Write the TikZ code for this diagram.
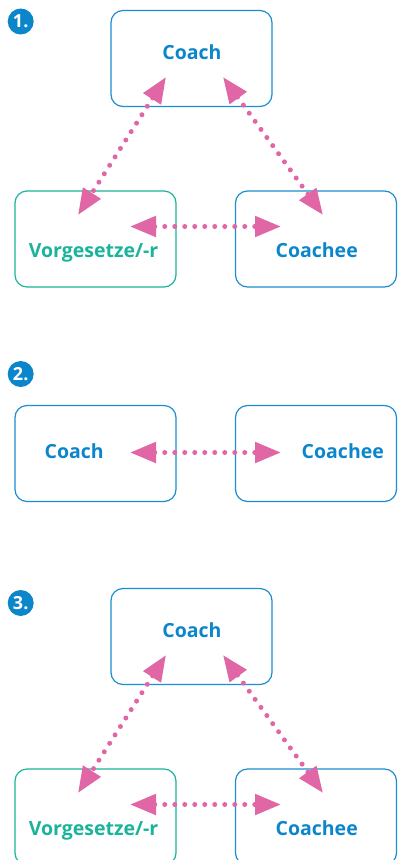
\documentclass[tikz,border=0pt]{standalone}
\usepackage{fontspec}
\setmainfont{Open Sans}
\usetikzlibrary{arrows.meta}
\definecolor{cblue}{HTML}{1A8ED0}
\definecolor{ctext}{HTML}{0B86CB}
\definecolor{cteal}{HTML}{1BB39A}
\definecolor{cpink}{HTML}{E066A6}
\tikzset{
  box/.style={draw=cblue, line width=1.2pt, rounded corners=12pt, minimum width=161pt, minimum height=96pt, inner sep=0pt},
  tbox/.style={box, draw=cteal},
  lbl/.style={font=\bfseries\fontsize{19.5}{20}\selectfont, text=ctext, inner sep=0pt, anchor=base},
  tlbl/.style={lbl, text=cteal},
  badge/.style={circle, fill=ctext, minimum size=26pt, inner sep=0pt, text=white, font=\bfseries\fontsize{18}{18}\selectfont},
  rel/.style={draw=cpink, line width=5pt, line cap=round, dash pattern=on 0pt off 10pt,
    {Triangle[length=26pt,width=20pt]}-{Triangle[length=26pt,width=20pt]}}
}
\begin{document}
\begin{tikzpicture}[x=1pt,y=-1pt]
\useasboundingbox (0,0) rectangle (397,860);
\clip (0,0) rectangle (397,860);
% ---------- Panel 1 ----------
\node[badge] (b1) at (20.7,21.5) {1.};
\node[box]  (c1)  at (191.5,58.5) {};
\node[tbox] (v1)  at (95.5,239) {};
\node[box]  (e1)  at (316,239) {};
\node[lbl]  (c1t) at (192,59.3) {Coach};
\node[tlbl] (v1t) at (93.5,257.3) {Vorgesetze/-r};
\node[lbl]  (e1t) at (316.7,257.3) {Coachee};
\coordinate (c1l) at (166,77);
\coordinate (c1r) at (223,77);
\coordinate (v1u) at (78,215);
\coordinate (e1u) at (323,215);
\coordinate (v1h) at (130,226.5);
\coordinate (e1h) at (281,226.5);
\draw[rel] (c1l) -- (v1u);
\draw[rel] (c1r) -- (e1u);
\draw[rel] (v1h) -- (e1h);
% ---------- Panel 2 ----------
\node[badge] (b2) at (20.7,374) {2.};
\node[box] (c2)  at (95.5,453.5) {};
\node[box] (e2)  at (316,453.5) {};
\node[lbl] (c2t) at (74.2,458.3) {Coach};
\node[lbl] (e2t) at (342.8,458.3) {Coachee};
\coordinate (c2h) at (130,452.5);
\coordinate (e2h) at (281,452.5);
\draw[rel] (c2h) -- (e2h);
% ---------- Panel 3 ----------
\node[badge] (b3) at (20.7,603) {3.};
\node[box]  (c3)  at (191.5,636.5) {};
\node[tbox] (v3)  at (95.5,817) {};
\node[box]  (e3)  at (316,817) {};
\node[lbl]  (c3t) at (192,637.3) {Coach};
\node[tlbl] (v3t) at (93.5,835.3) {Vorgesetze/-r};
\node[lbl]  (e3t) at (316.7,835.3) {Coachee};
\coordinate (c3l) at (166,655);
\coordinate (c3r) at (223,655);
\coordinate (v3u) at (78,793);
\coordinate (e3u) at (323,793);
\coordinate (v3h) at (130,804.5);
\coordinate (e3h) at (281,804.5);
\draw[rel] (c3l) -- (v3u);
\draw[rel] (c3r) -- (e3u);
\draw[rel] (v3h) -- (e3h);
\end{tikzpicture}
\end{document}
